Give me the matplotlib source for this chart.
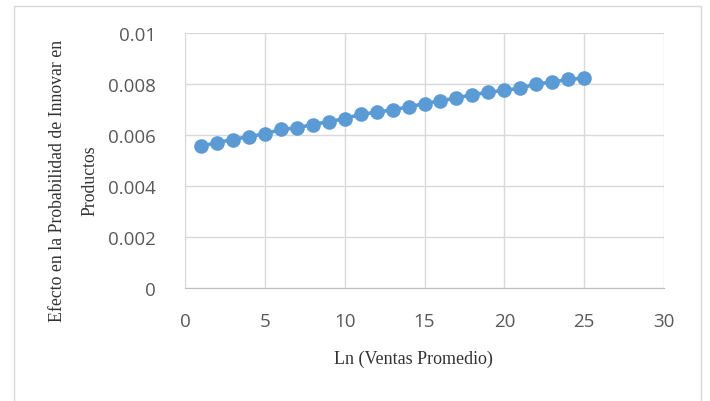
import matplotlib
matplotlib.use("Agg")
import matplotlib.pyplot as plt
from matplotlib.patches import Rectangle

# Ln of average sales and marginal effect on product-innovation probability
ln_ventas = list(range(1, 26))
efecto = [0.00556, 0.00570, 0.00582, 0.00594, 0.00604, 0.00622, 0.00628,
          0.00641, 0.00652, 0.00664, 0.00681, 0.00689, 0.00699, 0.00710,
          0.00723, 0.00734, 0.00745, 0.00758, 0.00767, 0.00776, 0.00783,
          0.00801, 0.00807, 0.00818, 0.00823]

x_ticks = [0, 5, 10, 15, 20, 25, 30]
y_ticks = [0, 0.002, 0.004, 0.006, 0.008, 0.01]
y_tick_labels = ["0", "0.002", "0.004", "0.006", "0.008", "0.01"]

W, H = 710, 402
fig = plt.figure(figsize=(W / 100, H / 100), dpi=100)

# chart-area frame
fig.patches.append(Rectangle((14 / W, -0.05), (701 - 14) / W, 1.05 - 7 / H,
                             transform=fig.transFigure, fill=False,
                             edgecolor="#D9D9D9", linewidth=1.0))

ax = fig.add_axes([185 / W, 1 - 289 / H, (664 - 185) / W, (289 - 34) / H])

ax.plot(ln_ventas, efecto, color="#5B9BD5", linewidth=2.6, marker="o",
        markersize=9.5, markerfacecolor="#5B9BD5", markeredgecolor="#5B9BD5",
        zorder=3)

ax.set_xlim(0, 30)
ax.set_ylim(0, 0.01)
ax.set_xticks(x_ticks)
ax.set_yticks(y_ticks)
ax.set_yticklabels(y_tick_labels)

ax.grid(True, color="#D9D9D9", linewidth=1.0)
ax.set_axisbelow(True)
for side in ("top", "right"):
    ax.spines[side].set_visible(False)
ax.spines["left"].set_color("#D9D9D9")
ax.spines["bottom"].set_color("#BFBFBF")
ax.tick_params(length=0, labelsize=13.5, labelcolor="#595959")
ax.tick_params(axis="x", pad=17)
ax.tick_params(axis="y", pad=21)
for lab in ax.get_xticklabels() + ax.get_yticklabels():
    lab.set_family(["Open Sans", "DejaVu Sans"])

serif = ["Liberation Serif", "DejaVu Serif"]
fig.text(413 / W, 1 - 359 / H, "Ln (Ventas Promedio)", ha="center",
         va="center", fontsize=13, family=serif, color="#333333")
fig.text(58 / W, 1 - 181 / H, "Efecto en la Probabilidad de Innovar en",
         rotation=90, ha="center", va="center", fontsize=12.8, family=serif,
         color="#333333")
fig.text(90 / W, 1 - 181 / H, "Productos", rotation=90, ha="center",
         va="center", fontsize=12.8, family=serif, color="#333333")

fig.savefig("out.png", dpi=100, facecolor="white")
